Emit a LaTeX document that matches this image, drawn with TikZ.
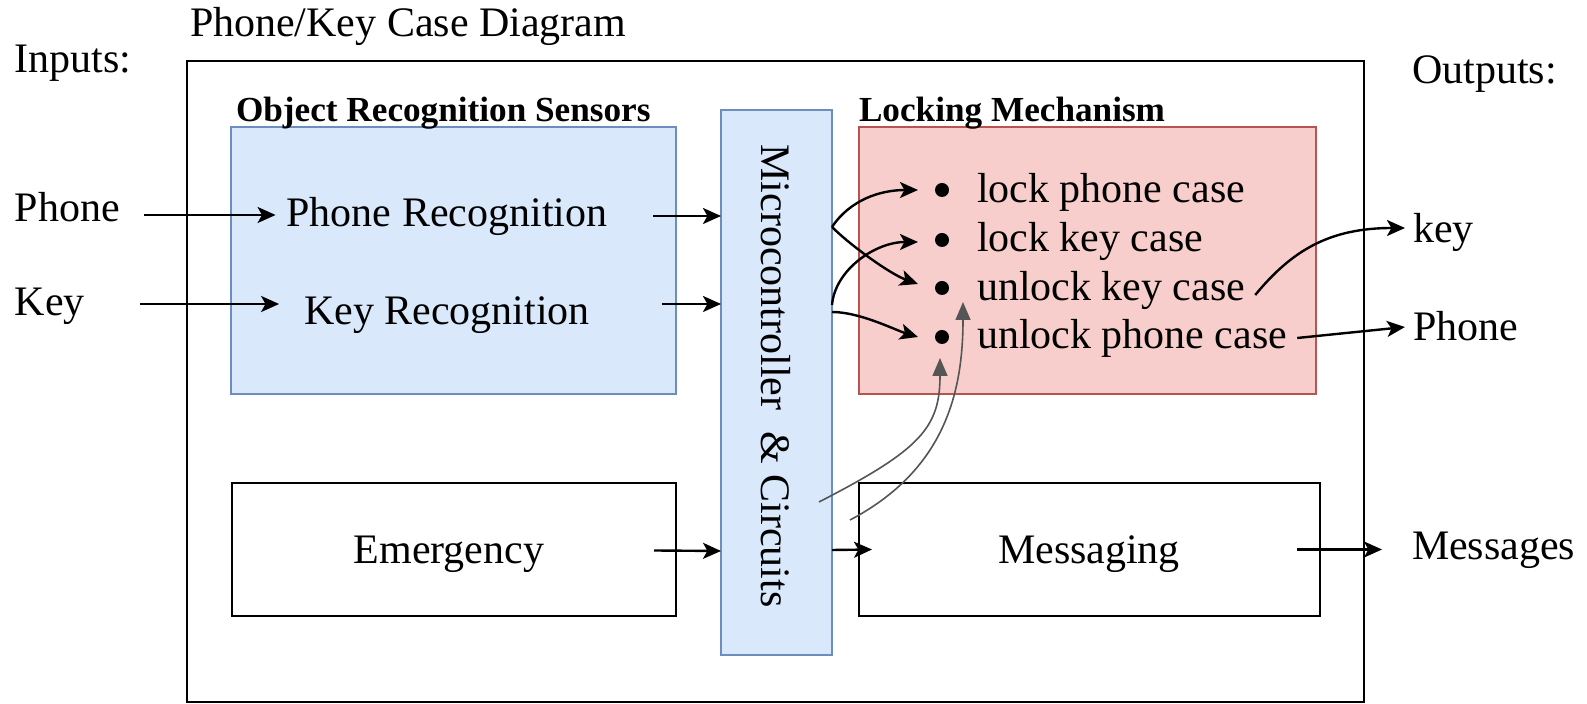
\documentclass[tikz,border=0pt]{standalone}
\usepackage{fontspec}
\setmainfont{LiberationSerif}[Extension=.ttf, UprightFont=*-Regular, BoldFont=*-Bold, ItalicFont=*-Italic, BoldItalicFont=*-BoldItalic]
\usetikzlibrary{arrows.meta,calc}
\definecolor{bluefill}{HTML}{DAE8FC}
\definecolor{bluedraw}{HTML}{6C8EBF}
\definecolor{redfill}{HTML}{F8CECC}
\definecolor{reddraw}{HTML}{B85450}
\definecolor{grayline}{HTML}{555555}
\tikzset{
  txt/.style={inner sep=0pt, outer sep=0pt, font=\fontsize{21}{25}\selectfont},
  btxt/.style={inner sep=0pt, outer sep=0pt, font=\fontsize{17.6}{21}\selectfont\bfseries},
  boxnode/.style={draw, line width=0.8pt, inner sep=0pt, outer sep=0pt, anchor=north west},
  arr/.style={line width=1.2pt, -{Stealth[length=9pt,width=8pt,inset=2.2pt]}},
  garr/.style={line width=0.8pt, grayline, -{Triangle[length=9pt,width=7.5pt]}},
  bullet/.style={circle, fill=black, inner sep=0pt, minimum size=7pt},
}
\begin{document}
\begin{tikzpicture}[x=0.5pt,y=-0.5pt]
\useasboundingbox (0,0) rectangle (1587,704);
% boxes
\node[boxnode, line width=1pt, minimum width=588.5pt, minimum height=320.5pt] (outer) at (187,61) {};
\node[boxnode, draw=bluedraw, fill=bluefill, minimum width=222.5pt, minimum height=133.5pt] (ors) at (231,127) {};
\node[boxnode, draw=bluedraw, fill=bluefill, minimum width=55.5pt, minimum height=272.5pt] (micro) at (721,110) {};
\node[boxnode, draw=reddraw, fill=redfill, minimum width=228.5pt, minimum height=133.5pt] (lm) at (859,127) {};
\node[boxnode, minimum width=222pt, minimum height=66.5pt] (em) at (232,483) {};
\node[boxnode, minimum width=230.5pt, minimum height=66.5pt] (msg) at (859,483) {};
% texts
\node[txt, anchor=west] (title) at (190,26) {Phone/Key Case Diagram};
\node[txt, anchor=west] (inputs) at (15,63) {Inputs:};
\node[txt, anchor=west] (outputs) at (1412,74) {Outputs:};
\node[btxt, anchor=west] (orsl) at (236,113) {Object Recognition Sensors};
\node[btxt, anchor=west] (lml) at (859,113) {Locking Mechanism};
\node[txt, anchor=west] (inPhone) at (15,207) {Phone};
\node[txt, anchor=west] (inKey) at (15,306) {Key};
\node[txt] (phoneRec) at (447,216) {Phone Recognition};
\node[txt] (keyRec) at (447,315) {Key Recognition};
\node[txt, rotate=-90] (microTxt) at (776,376) {Microcontroller~~\& Circuits};
\node[txt] (emTxt) at (449,554) {Emergency};
\node[txt] (msgTxt) at (1089,554) {Messaging};
\node[bullet] (b1) at (942,190) {};
\node[bullet] (b2) at (942,240) {};
\node[bullet] (b3) at (942,288) {};
\node[bullet] (b4) at (942,337) {};
\node[txt, anchor=west] (t1) at (977,192) {lock phone case};
\node[txt, anchor=west] (t2) at (977,241) {lock key case};
\node[txt, anchor=west] (t3) at (977,290) {unlock key case};
\node[txt, anchor=west] (t4) at (977,338) {unlock phone case};
\node[txt, anchor=west] (outKey) at (1413,232) {key};
\node[txt, anchor=west] (outPhone) at (1413,326) {Phone};
\node[txt, anchor=west] (outMsg) at (1412,550) {Messages};
% input arrows
\draw[arr] ($(inPhone.east)+(24,8)$) -- ($(phoneRec.west)+(-11,-1)$);
\draw[arr] ($(inKey.east)+(55,-2)$) -- ($(keyRec.west)+(-25,-11)$);
\draw[arr] ($(phoneRec.east)+(46,0)$) -- ($(micro.north west)+(0,106)$);
\draw[arr] ($(keyRec.east)+(72,-11)$) -- ($(micro.north west)+(0,194)$);
\draw[arr] ($(em.east)+(-22,1)$) -- ($(micro.north west)+(0,441)$);
\draw[arr] ($(micro.north east)+(0,440)$) -- ($(msg.west)+(13,0)$);
\draw[arr] ($(msg.east)+(-23,0)$) -- ($(outMsg.west |- msg.east)+(-30,0)$);
% micro to bullets
\draw[arr] ($(micro.north east)+(0,117)$) .. controls +(18,-27) and +(-38,0) .. ($(b1)+(-24,0)$);
\draw[arr] ($(micro.north east)+(0,117)$) .. controls +(18,18) and +(-28,-10) .. ($(b3)+(-24,-4)$);
\draw[arr] ($(micro.north east)+(0,195)$) .. controls +(3,-35) and +(-43,0) .. ($(b2)+(-24,2)$);
\draw[arr] ($(micro.north east)+(0,202)$) .. controls +(28,0) and +(-23,-7) .. ($(b4)+(-24,0)$);
% gray from micro bottom
\draw[garr] ($(micro.north east)+(-13,392)$) .. controls +(101,-52) and +(0,70) .. ($(b4)+(-2,21)$);
\draw[garr] ($(micro.north east)+(18,410)$) .. controls +(95,-50) and +(0,90) .. ($(b3)+(21,14)$);
% outputs
\draw[arr] ($(t3.east)+(10,5)$) .. controls +(37,-45) and +(-75,0) .. ($(outKey.west)+(-8,-4)$);
\draw[arr] ($(t4.east)+(10,0)$) -- ($(outPhone.west)+(-8,1)$);
\end{tikzpicture}
\end{document}
